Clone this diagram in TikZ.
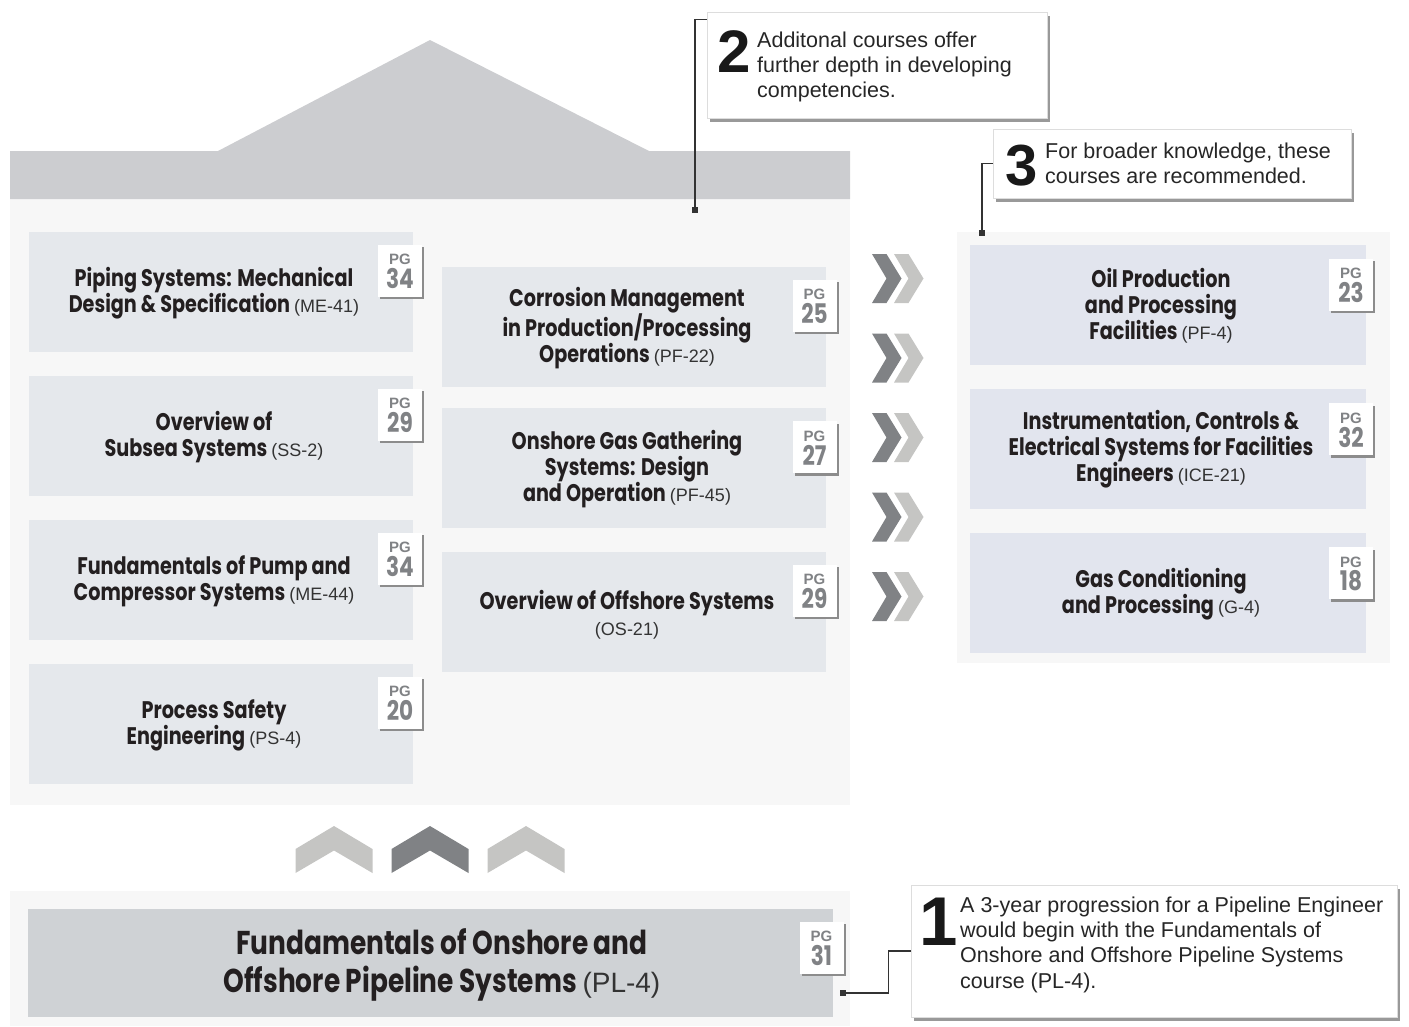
\documentclass[tikz,border=0pt]{standalone}
\usepackage{fontspec}
\usetikzlibrary{shadows}
\setmainfont{Liberation Sans}
\newfontfamily\tfont{Poppins}[FakeStretch=0.80]
\newfontfamily\cfont{Liberation Sans}
\definecolor{bgl}{HTML}{F7F7F7}
\definecolor{band}{HTML}{CCCDD0}
\definecolor{boxl}{HTML}{E5E8EC}
\definecolor{boxr}{HTML}{E2E5EE}
\definecolor{boxb}{HTML}{CFD2D5}
\definecolor{chd}{HTML}{808285}
\definecolor{chl}{HTML}{C5C5C3}
\definecolor{titlec}{HTML}{231F20}
\definecolor{codec}{HTML}{333333}
\definecolor{pgc}{HTML}{808285}
\definecolor{linec}{HTML}{333333}
\definecolor{cobord}{HTML}{DDDDDD}
\newcommand\ccode[1]{{\cfont\mdseries\fontsize{18}{26}\selectfont\color{codec}#1}}
\newcommand\bcode[1]{{\cfont\mdseries\fontsize{28}{38}\selectfont\color{codec}#1}}
\newcommand\pgb[4]{%
  \node[badge] (#4) at (#1,#2) {};
  \node[pgl] at (#1,#2-11) {PG};
  \node[pgn] at (#1,#2+8) {#3};}
\tikzset{
  course/.style={align=center, text=titlec, inner sep=0,
    font=\tfont\bfseries\fontsize{24}{26}\selectfont},
  bigcourse/.style={align=center, text=titlec, inner sep=0,
    font=\tfont\bfseries\fontsize{33}{38}\selectfont},
  lbox/.style={fill=boxl, inner sep=0, minimum width=384, minimum height=120},
  rbox/.style={fill=boxr, inner sep=0, minimum width=396, minimum height=120},
  badge/.style={fill=white, inner sep=0, minimum width=44, minimum height=52,
    drop shadow={shadow xshift=2pt, shadow yshift=-2.5pt, fill=black!45, opacity=1}},
  pgl/.style={inner sep=0, text=pgc, font=\cfont\bfseries\fontsize{15}{15}\selectfont},
  pgn/.style={inner sep=0, text=pgc, font=\tfont\bfseries\fontsize{27}{27}\selectfont},
  callout/.style={fill=white, draw=cobord, line width=0.8pt, inner sep=0,
    drop shadow={shadow xshift=3pt, shadow yshift=-4pt, fill=black!40, opacity=1}},
  cotext/.style={align=left, inner sep=0, anchor=north west, text=black!85,
    font=\fontsize{21.5}{25.3}\selectfont},
  conum/.style={inner sep=0, anchor=base west, text=black!90},
  conn/.style={draw=linec, line width=1.2pt},
  sqr/.style={fill=linec, minimum size=6.5, inner sep=0}
}
\begin{document}
\begin{tikzpicture}[x=1pt,y=-1pt]
\useasboundingbox (0,0) rectangle (1409,1026);
% house
\fill[bgl] (10,199) rectangle (850,805);
\fill[band] (10,151) -- (218,151) -- (430,40) -- (649,151) -- (850,151) -- (850,199) -- (10,199) -- cycle;
% right panel
\fill[bgl] (957,232) rectangle (1390,663);
% bottom panel
\fill[bgl] (10,891) rectangle (850,1026);

% left column
\node[lbox] (l1) at (221,292) {};
\node[lbox] (l2) at (221,436) {};
\node[lbox] (l3) at (221,580) {};
\node[lbox] (l4) at (221,724) {};
\node[course] (tl1) at (214,293) {Piping Systems: Mechanical\\Design \& Specification \ccode{(ME-41)}};
\node[course] (tl2) at (214,437) {Overview of\\Subsea Systems \ccode{(SS-2)}};
\node[course] (tl3) at (214,581) {Fundamentals of Pump and\\Compressor Systems \ccode{(ME-44)}};
\node[course] (tl4) at (214,725) {Process Safety\\Engineering \ccode{(PS-4)}};
\pgb{400}{270.5}{34}{bl1}
\pgb{400}{414.5}{29}{bl2}
\pgb{400}{558.5}{34}{bl3}
\pgb{400}{702.5}{20}{bl4}

% middle column
\node[lbox] (m1) at (634,327) {};
\node[lbox] (m2) at (634,468) {};
\node[lbox] (m3) at (634,612) {};
\node[course] (tm1) at (627,328) {Corrosion Management\\in Production/Processing\\Operations \ccode{(PF-22)}};
\node[course] (tm2) at (627,469) {Onshore Gas Gathering\\Systems: Design\\and Operation \ccode{(PF-45)}};
\node[course] (tm3) at (627,615) {Overview of Offshore Systems\\\ccode{(OS-21)}};
\pgb{814.5}{305.5}{25}{bm1}
\pgb{814.5}{447}{27}{bm2}
\pgb{814.5}{590.5}{29}{bm3}

% right column
\node[rbox] (r1) at (1168,304.5) {};
\node[rbox] (r2) at (1168,448.5) {};
\node[rbox] (r3) at (1168,593) {};
\node[course] (tr1) at (1161,305.5) {Oil Production\\and Processing\\Facilities \ccode{(PF-4)}};
\node[course] (tr2) at (1161,449.5) {Instrumentation, Controls \&\\Electrical Systems for Facilities\\Engineers \ccode{(ICE-21)}};
\node[course] (tr3) at (1161,594) {Gas Conditioning\\and Processing \ccode{(G-4)}};
\pgb{1351}{284.5}{23}{br1}
\pgb{1351}{429}{32}{br2}
\pgb{1351}{573}{18}{br3}

% bottom course
\node[fill=boxb, inner sep=0, minimum width=805, minimum height=108] (bb) at (430.5,963) {};
\node[bigcourse] (tb) at (442,965) {Fundamentals of Onshore and\\Offshore Pipeline Systems \bcode{(PL-4)}};
\pgb{821.5}{947.5}{31}{bb1}

% right chevrons
\foreach \m in {278.5,358,437.5,517,596.5}{
  \fill[chd] (872,\m-24.5) -- (886.5,\m-24.5) -- (901.5,\m) -- (886.5,\m+24.5) -- (872,\m+24.5) -- (886.5,\m) -- cycle;
  \fill[chl] (894,\m-24.5) -- (908.5,\m-24.5) -- (923.5,\m) -- (908.5,\m+24.5) -- (894,\m+24.5) -- (908.5,\m) -- cycle;
}
% up chevrons
\foreach \cx/\col in {334/chl,430/chd,526/chl}{
  \fill[\col] (\cx-38.5,849) -- (\cx,826) -- (\cx+38.5,849) -- (\cx+38.5,873) -- (\cx,850.5) -- (\cx-38.5,873) -- cycle;
}

% callout 2
\node[callout, minimum width=340, minimum height=106] (co2) at (877,65) {};
\node[conum, font=\bfseries\fontsize{60}{60}\selectfont] (n2) at (717,72) {2};
\node[cotext] (x2) at (757,31.5) {Additonal courses offer\\further depth in developing\\competencies.};
\coordinate (e2) at (695,210);
\draw[conn] ([yshift=-8pt]co2.north west) -| (e2);
\node[sqr] (s2) at (e2) {};

% callout 3
\node[callout, minimum width=358, minimum height=69] (co3) at (1172,163.5) {};
\node[conum, font=\bfseries\fontsize{58}{58}\selectfont] (n3) at (1005,185) {3};
\node[cotext] (x3) at (1045,142.5) {For broader knowledge, these\\courses are recommended.};
\coordinate (e3) at (982,233);
\draw[conn] (co3.west) -| (e3);
\node[sqr] (s3) at (e3) {};

% callout 1
\node[callout, minimum width=486, minimum height=132] (co1) at (1154,951) {};
\node[conum, font=\bfseries\fontsize{69}{69}\selectfont] (n1) at (919,945) {1};
\node[cotext] (x1) at (960,896.5) {A 3-year progression for a Pipeline Engineer\\would begin with the Fundamentals of\\Onshore and Offshore Pipeline Systems\\course (PL-4).};
\coordinate (e1) at (843,993);
\draw[conn] (co1.west) -- ++(-22,0) |- (e1);
\node[sqr] (s1) at (e1) {};
\end{tikzpicture}
\end{document}
